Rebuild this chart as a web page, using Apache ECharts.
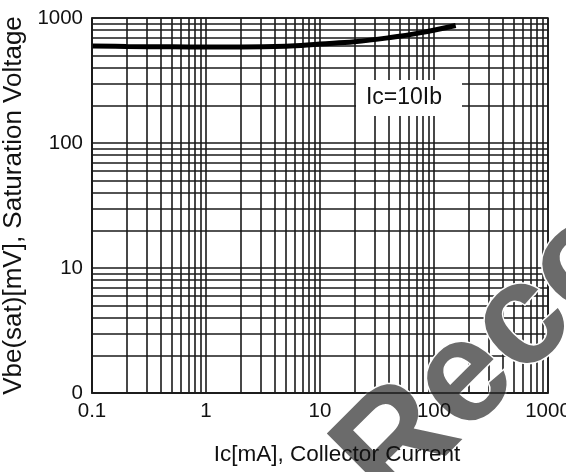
<!DOCTYPE html>
<html><head><meta charset="utf-8">
<script src="https://cdn.jsdelivr.net/npm/echarts@6/dist/echarts.min.js"></script>
<style>html,body{margin:0;padding:0;background:#fff}#c{width:566px;height:472px}</style>
</head><body><div id="c"></div>
<script>
// Data
const icValues  = [0.1, 0.2, 0.5, 1, 2, 5, 10, 20, 40, 75, 155];   // Ic [mA]
const vbeValues = [597, 592, 588, 586, 586, 595, 620, 645, 695, 760, 872]; // Vbe(sat) [mV]
const xTickLabels = ['0.1', '1', '10', '100', '1000'];
const yTickLabels = ['0', '10', '100', '1000'];
const xDecades = [0.1, 1, 10, 100];
const yDecades = [1, 10, 100];
const multipliers = [1, 2, 3, 4, 5, 6, 7, 8, 9];
const annotation = 'Ic=10Ib';
const watermark = 'Not Recommended';
const xTitle = 'Ic[mA], Collector Current';
const yTitle = 'Vbe(sat)[mV], Saturation Voltage';

const font = '"Liberation Sans", Arial, sans-serif';
const gridColor = '#1a1a1a';

const xGrid = [];
xDecades.forEach(d => multipliers.forEach(m => xGrid.push({ xAxis: +(d * m).toPrecision(3) })));
xGrid.push({ xAxis: 1000 });
const yGrid = [];
yDecades.forEach(d => multipliers.forEach(m => yGrid.push({ yAxis: +(d * m).toPrecision(3) })));
yGrid.push({ yAxis: 1000 });

const chart = echarts.init(document.getElementById('c'), null, { renderer: 'canvas' });
const lbl = (arr, offset) => v => {
  const i = Math.round(Math.log10(v)) + offset;
  return arr[i] !== undefined ? arr[i] : '';
};
const rot = 45 * Math.PI / 180;
chart.setOption({
  animation: false,
  backgroundColor: '#fff',
  grid: { left: 92, top: 18, width: 456, height: 375, containLabel: false, outerBoundsMode: 'none',
          show: true, borderColor: gridColor, borderWidth: 1.6 },
  xAxis: {
    type: 'log', logBase: 10, min: 0.1, max: 1000, z: 20,
    name: xTitle, nameLocation: 'middle', nameGap: 50,
    nameTextStyle: { fontFamily: font, fontSize: 22.5, color: '#111', padding: [0, 0, 0, 34] },
    axisLine: { show: true, lineStyle: { color: gridColor, width: 1.6 } },
    axisTick: { show: false },
    splitLine: { show: false },
    axisLabel: { formatter: lbl(xTickLabels, 1), fontFamily: font, fontSize: 20.5, color: '#111', margin: 8 }
  },
  yAxis: {
    type: 'log', logBase: 10, min: 1, max: 1000, z: 20,
    name: yTitle, nameLocation: 'middle', nameGap: 58,
    nameTextStyle: { fontFamily: font, fontSize: 26, color: '#111' },
    axisLine: { show: true, lineStyle: { color: gridColor, width: 1.6 } },
    axisTick: { show: false },
    splitLine: { show: false },
    axisLabel: { formatter: lbl(yTickLabels, 0), fontFamily: font, fontSize: 20.5, color: '#111', margin: 9 }
  },
  series: [
    {
      type: 'line', z: 1, data: [[0.1, 1]], symbol: 'none', silent: true,
      lineStyle: { opacity: 0 },
      markLine: {
        silent: true, symbol: 'none', label: { show: false },
        lineStyle: { color: gridColor, width: 1.6, type: 'solid' },
        emphasis: { disabled: true },
        data: xGrid.concat(yGrid)
      }
    },
    {
      type: 'line', z: 5, smooth: 0.4, showSymbol: false, silent: true,
      data: icValues.map((x, i) => [x, vbeValues[i]]),
      lineStyle: { color: '#000', width: 5 }
    }
  ],
  graphic: [
    { type: 'rect', z: 8, shape: { x: 356, y: 80, width: 106, height: 36 }, style: { fill: '#fff' } },
    { type: 'text', z: 9, x: 404, y: 98, style: { text: annotation, font: '23px ' + font, fill: '#111', textAlign: 'center', textVerticalAlign: 'middle' } },
    { type: 'text', z: 10, x: 163, y: 682, rotation: rot,
      style: { text: watermark, font: 'bold 145px ' + font, fill: '#6b6b6b', stroke: '#fff', lineWidth: 3,
               align: 'left', verticalAlign: 'middle', textAlign: 'left', textVerticalAlign: 'middle' } }
  ]
});
</script></body></html>
